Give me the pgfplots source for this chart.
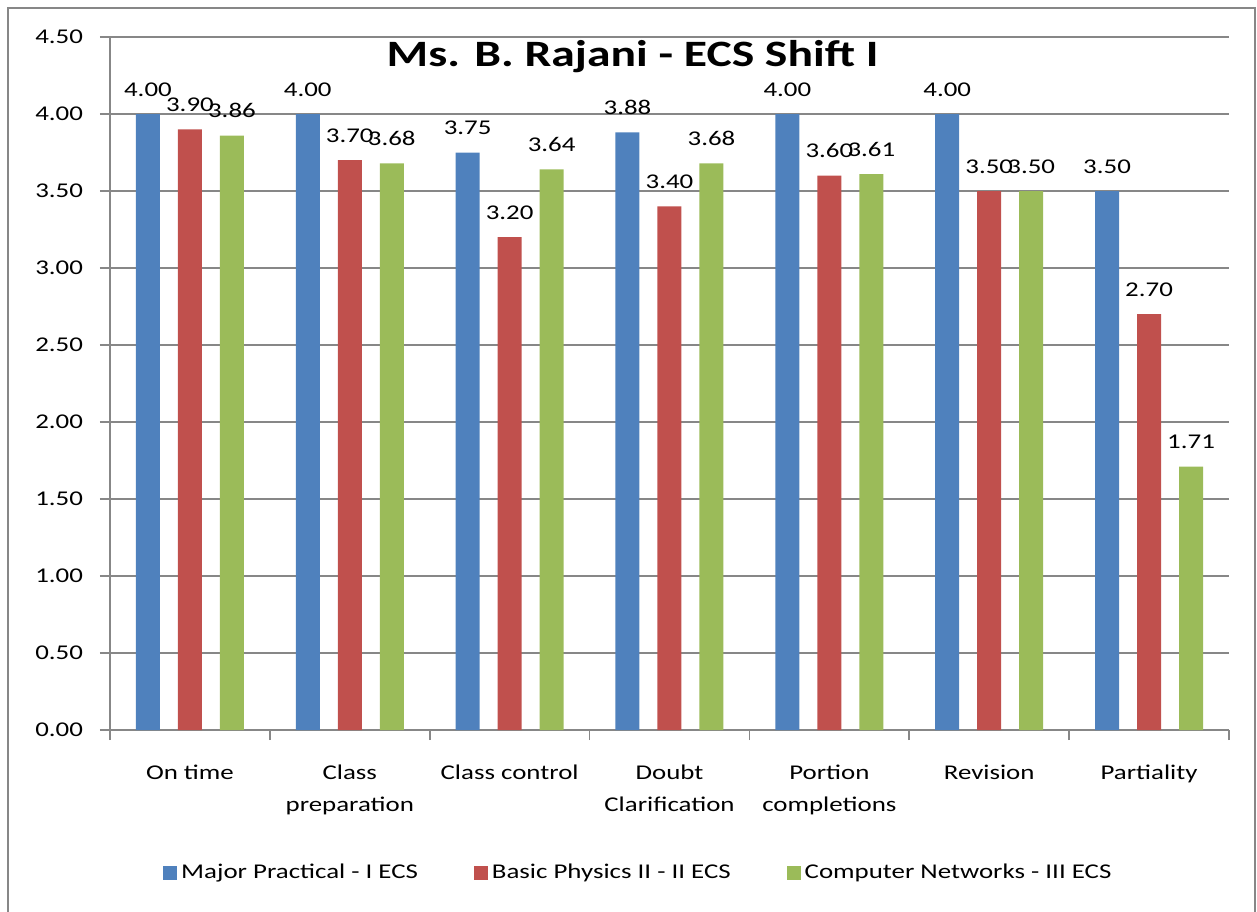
\documentclass[border=0pt]{standalone}
\usepackage{fontspec}
\setmainfont[FakeStretch=1.28]{Carlito}
\usepackage{pgfplots}
\pgfplotsset{compat=1.18}
\pgfkeys{/pgf/number format/assume math mode=true}
\definecolor{cblue}{HTML}{4F81BD}
\definecolor{cred}{HTML}{C0504D}
\definecolor{cgreen}{HTML}{9BBB59}
\definecolor{cgrid}{HTML}{878787}
\begin{document}
\begin{tikzpicture}
\useasboundingbox (-55pt,-90.5pt) rectangle (573.5pt,365pt);
\begin{axis}[
  at={(0pt,0pt)}, anchor=south west,
  scale only axis, width=559.5pt, height=346.5pt,
  ybar, bar width=12pt,
  xmin=-0.5, xmax=6.5, ymin=0, ymax=4.5,
  axis lines=left, axis line style={-, cgrid, line width=0.8pt},
  ytick={0,0.5,1,1.5,2,2.5,3,3.5,4,4.5},
  ymajorgrids, grid style={cgrid, line width=0.8pt},
  xtick={0,1,2,3,4,5,6},
  xticklabels={On time, Class\\preparation, Class control, Doubt\\Clarification, Portion\\completions, Revision, Partiality},
  minor xtick={-0.5,0.5,1.5,2.5,3.5,4.5,5.5,6.5},
  major x tick style={draw=none},
  tick align=outside, major tick length=5pt, minor tick length=5pt,
  tick style={cgrid, line width=0.8pt},
  tick label style={font=\fontsize{10.5pt}{16pt}\selectfont, text=black},
  xticklabel style={align=center, anchor=north, yshift=-9pt},
  yticklabel style={/pgf/number format/fixed, /pgf/number format/fixed zerofill, /pgf/number format/precision=2, xshift=-5pt},
  nodes near coords={\pgfmathprintnumber[fixed,fixed zerofill,precision=2]{\pgfplotspointmeta}},
  nodes near coords style={font=\fontsize{10.5pt}{16pt}\selectfont, anchor=base, yshift=9pt, inner sep=0pt, text=black},
  clip=false,
  title={Ms. B. Rajani - ECS Shift I},
  title style={at={(0.467,0.940)}, anchor=base, font=\bfseries\fontsize{18.6pt}{20pt}\selectfont},
  legend columns=3,
  legend style={at={(0.473,-0.206)}, anchor=center, draw=none, font=\fontsize{10.5pt}{16pt}\selectfont,
    /tikz/every even column/.append style={column sep=26pt}},
  legend image code/.code={\fill[#1,draw=none] (0pt,-3.5pt) rectangle (7pt,3.5pt);},
]
\addplot[fill=cblue, draw=none, bar shift=-21pt] coordinates {(0,4.00) (1,4.00) (2,3.75) (3,3.88) (4,4.00) (5,4.00) (6,3.50)};
\addplot[fill=cred, draw=none, bar shift=0pt] coordinates {(0,3.90) (1,3.70) (2,3.20) (3,3.40) (4,3.60) (5,3.50) (6,2.70)};
\addplot[fill=cgreen, draw=none, bar shift=21pt] coordinates {(0,3.86) (1,3.68) (2,3.64) (3,3.68) (4,3.61) (5,3.50) (6,1.71)};
\legend{Major Practical - I ECS, Basic Physics II - II ECS, Computer Networks - III ECS}
\end{axis}
\draw[cgrid, line width=1pt] (-51pt,-91pt) -- (-51pt,361pt) -- (572.5pt,361pt) -- (572.5pt,-91pt);
\end{tikzpicture}
\end{document}
